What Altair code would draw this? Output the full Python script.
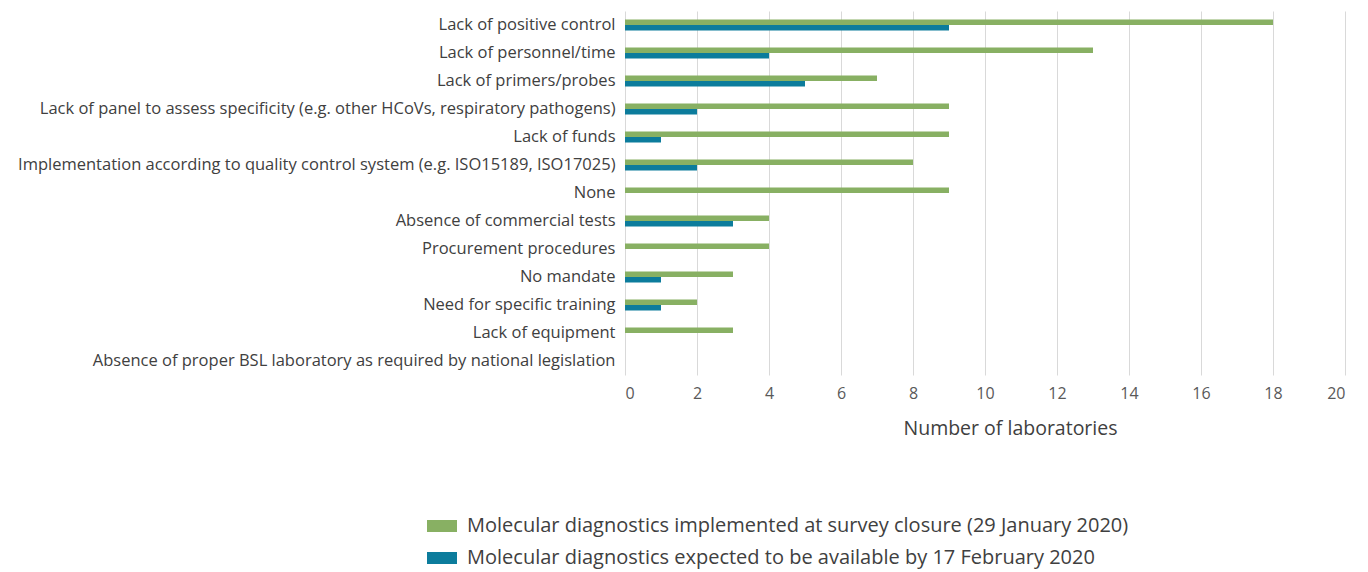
import altair as alt
import pandas as pd

categories = [
    "Lack of positive control",
    "Lack of personnel/time",
    "Lack of primers/probes",
    "Lack of panel to assess specificity (e.g. other HCoVs, respiratory pathogens)",
    "Lack of funds",
    "Implementation according to quality control system (e.g. ISO15189, ISO17025)",
    "None",
    "Absence of commercial tests",
    "Procurement procedures",
    "No mandate",
    "Need for specific training",
    "Lack of equipment",
    "Absence of proper BSL laboratory as required by national legislation",
]
implemented = [18, 13, 7, 9, 9, 8, 9, 4, 4, 3, 2, 3, 0]
expected = [9, 4, 5, 2, 1, 2, 0, 3, 0, 1, 1, 0, 0]
series = [
    "Molecular diagnostics implemented at survey closure (29 January 2020)",
    "Molecular diagnostics expected to be available by 17 February 2020",
]
colors = ["#88B063", "#0C7C9C"]
x_ticks = list(range(0, 21, 2))

rows = []
for c, a, b in zip(categories, implemented, expected):
    rows.append({"category": c, "series": series[0], "value": a})
    rows.append({"category": c, "series": series[1], "value": b})
df = pd.DataFrame(rows)

FONT = "Open Sans"

chart = (
    alt.Chart(df)
    .mark_bar()
    .encode(
        y=alt.Y(
            "category:N",
            sort=categories,
            scale=alt.Scale(paddingInner=0.6, paddingOuter=0.3),
            axis=alt.Axis(
                title=None,
                domain=False,
                ticks=False,
                labelPadding=10,
                labelLimit=700,
                labelFontSize=16.5,
                labelColor="#404040",
                labelFont=FONT,
            ),
        ),
        yOffset=alt.YOffset("series:N", sort=series, scale=alt.Scale(domain=series)),
        x=alt.X(
            "value:Q",
            scale=alt.Scale(domain=[0, 20]),
            axis=alt.Axis(
                title="Number of laboratories",
                values=x_ticks,
                domain=False,
                ticks=False,
                grid=True,
                gridColor="#D9D9D9",
                gridWidth=1,
                labelPadding=10,
                labelFontSize=16,
                labelColor="#595959",
                labelFont=FONT,
                titleFont=FONT,
                titleFontSize=19.5,
                titleFontWeight="normal",
                titleColor="#404040",
                titlePadding=18,
                titleX=385,
            ),
        ),
        color=alt.Color(
            "series:N",
            scale=alt.Scale(domain=series, range=colors),
            legend=alt.Legend(
                title=None,
                orient="none",
                legendX=-198,
                legendY=500,
                symbolType="M-1,-0.4H1V0.4H-1Z",
                symbolSize=900,
                symbolStrokeWidth=0,
                labelFont=FONT,
                labelFontSize=20,
                labelColor="#404040",
                labelLimit=900,
                labelOffset=10,
                rowPadding=7,
            ),
        ),
    )
    .properties(
        width=720,
        height=364,
        padding={"left": 9, "top": 3, "right": 5, "bottom": 3},
    )
    .configure_view(stroke=None)
)

chart.save("out.html", embed_options={"renderer": "svg", "actions": False})
